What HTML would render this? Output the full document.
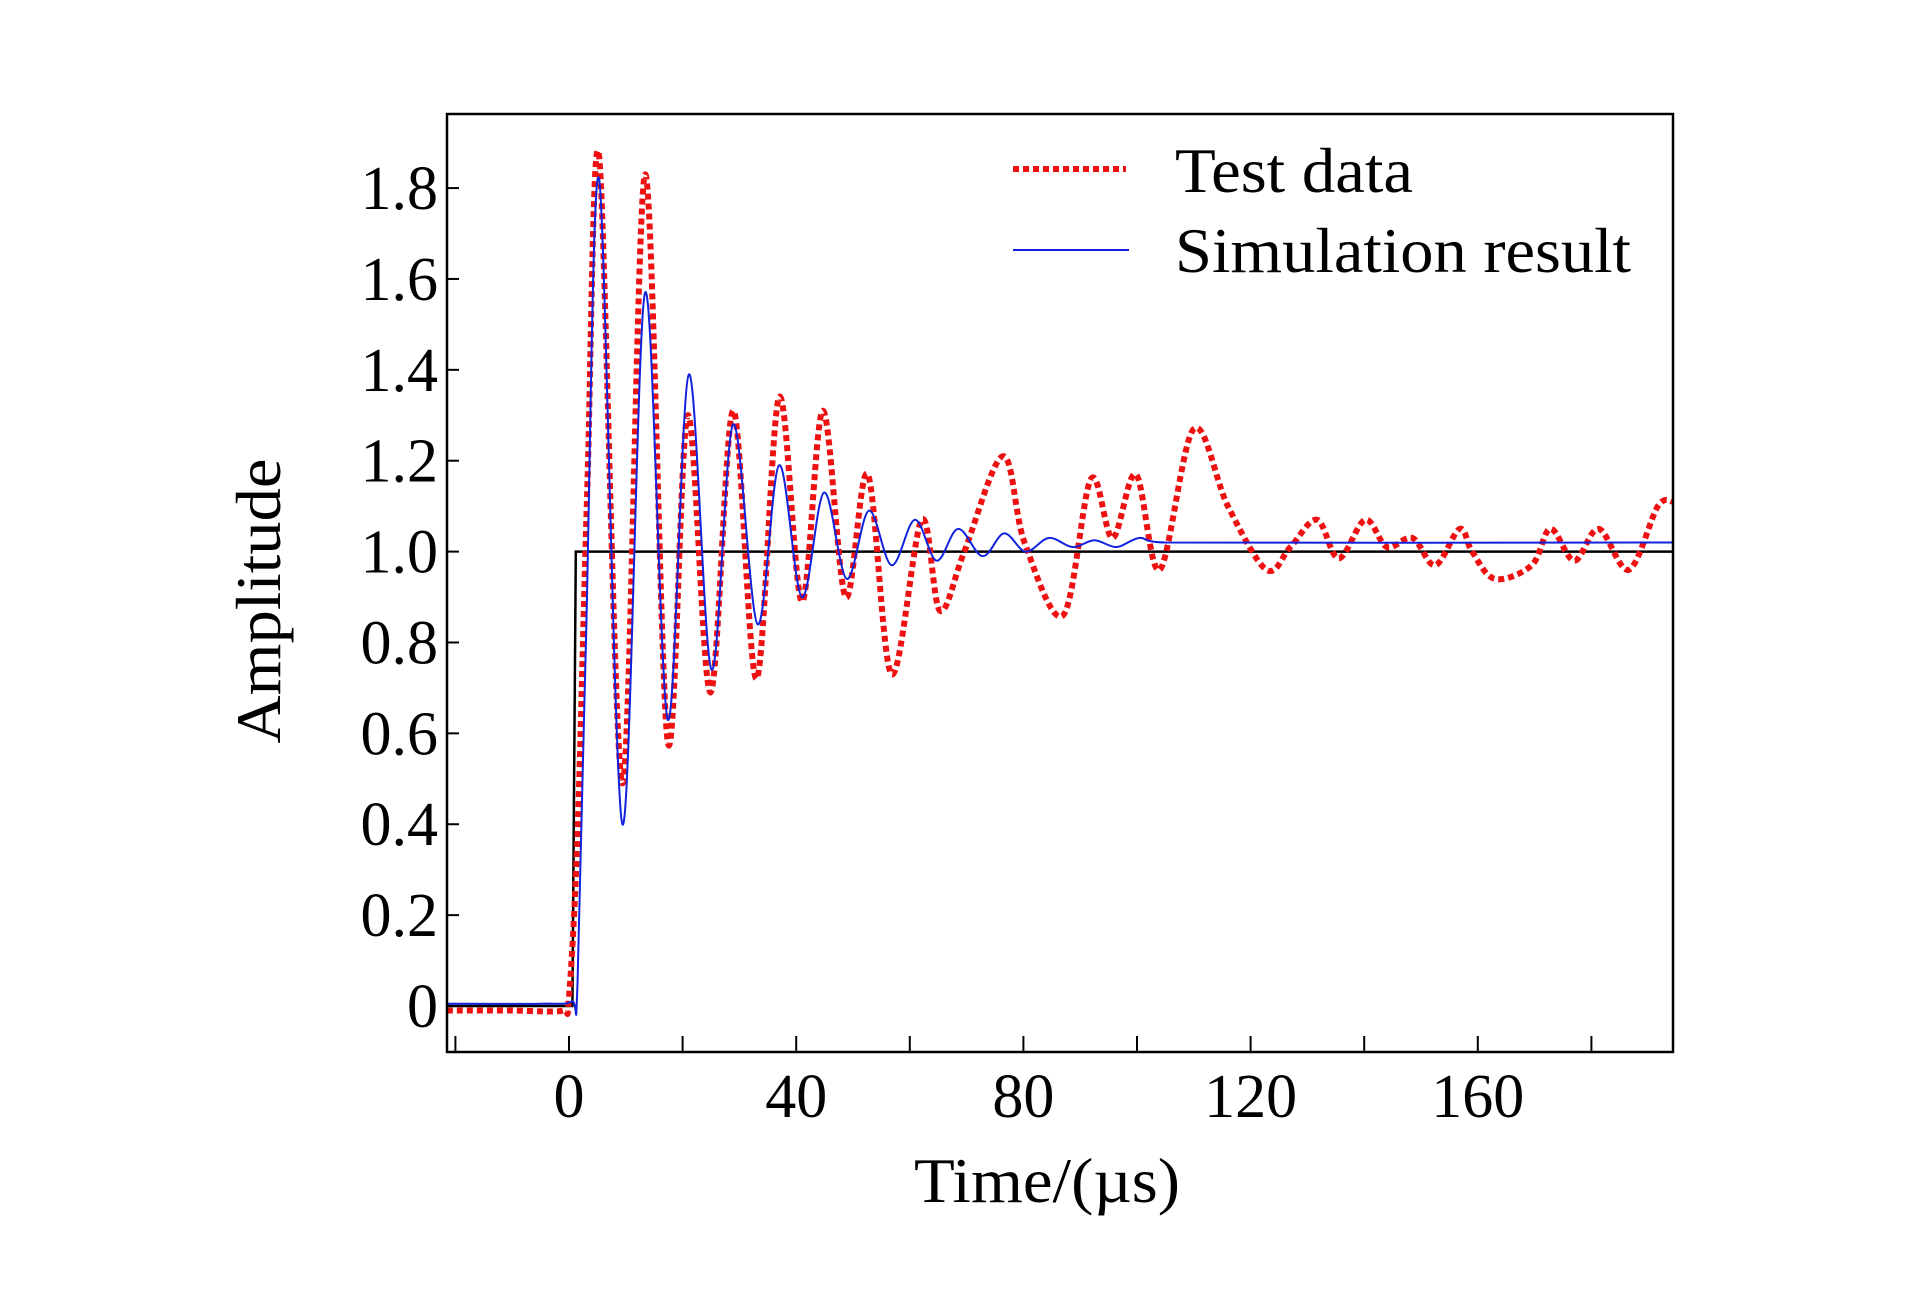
<!DOCTYPE html>
<html><head><meta charset="utf-8"><style>
html,body{margin:0;padding:0;background:#fff;}
svg{display:block;font-family:"Liberation Serif",serif;}
</style></head><body>
<svg id="chart" width="1923" height="1299" viewBox="0 0 1923 1299">
  <g id="plot"></g>
</svg>
<script>
const testT = [-21.5,-10,-1,0,1.5,3.2,5.3,9.4,13.4,17.4,20.9,24.9,28.9,33,37,41,44.7,48.7,52.6,56.8,62.1,65.3,69.6,76.4,80.2,87,91.9,95.7,99.8,104,110,116,122.8,127,131.7,135.5,140.2,144,148.5,152.5,156.8,159,163,169.5,172.8,177,181.3,186.6,191.7,194.4];
const testV = [-0.01,-0.01,-0.01,0.02,0.38,1.13,1.87,0.49,1.83,0.58,1.30,0.69,1.31,0.72,1.34,0.89,1.31,0.90,1.17,0.73,1.07,0.87,1.00,1.21,1.02,0.86,1.16,1.03,1.17,0.96,1.27,1.10,0.96,1.01,1.07,0.985,1.07,1.01,1.03,0.97,1.05,1.0,0.94,0.97,1.05,0.98,1.05,0.96,1.10,1.11];
const simT = [-21.5,-5,0.5,1.5,3,5.3,9.4,13.4,17.4,21.1,25.1,28.9,33.2,37,41,44.9,48.9,52.8,56.8,60.9,64.7,68.5,72.8,76.6,80.4,84.5,88.7,92.5,96.4,100.4,105,194.4];
const simV = [0.005,0.005,0.01,0.05,0.81,1.82,0.40,1.57,0.63,1.39,0.74,1.28,0.84,1.19,0.90,1.13,0.94,1.09,0.97,1.07,0.98,1.05,0.99,1.04,1.00,1.03,1.01,1.025,1.01,1.03,1.02,1.02];
const stepT = [-21.5,0.6,1.2,194.4];
const stepV = [0,0,1,1];
const xTicks = [0,40,80,120,160];
const xMinor = [-20,20,60,100,140,180];
const yTicks = [0,0.2,0.4,0.6,0.8,1.0,1.2,1.4,1.6,1.8];
const yLabels = ["0","0.2","0.4","0.6","0.8","1.0","1.2","1.4","1.6","1.8"];

const L=447,R=1673,T=114,B=1052;
const X = t => 569 + t*5.68;
const Y = v => 1006 - v*454.4;
const NS="http://www.w3.org/2000/svg";
const g=document.getElementById('plot');
function mk(tag,attrs,parent){const e=document.createElementNS(NS,tag);for(const k in attrs)e.setAttribute(k,attrs[k]);(parent||g).appendChild(e);return e;}
function smooth(ts,vs){
  const p=ts.map((t,i)=>[X(t),Y(vs[i])]);
  let d=`M${p[0][0]},${p[0][1]}`;
  for(let i=0;i<p.length-1;i++){
    const p0=p[Math.max(0,i-1)],p1=p[i],p2=p[i+1],p3=p[Math.min(p.length-1,i+2)];
    const k=1/6;
    const c1=[p1[0]+(p2[0]-p0[0])*k,p1[1]+(p2[1]-p0[1])*k];
    const c2=[p2[0]-(p3[0]-p1[0])*k,p2[1]-(p3[1]-p1[1])*k];
    c1[0]=Math.min(Math.max(c1[0],p1[0]),p2[0]);c2[0]=Math.min(Math.max(c2[0],p1[0]),p2[0]);
    d+=` C${c1[0]},${c1[1]} ${c2[0]},${c2[1]} ${p2[0]},${p2[1]}`;
  }
  return d;
}
const defs=mk('defs',{});const cp=mk('clipPath',{id:'clip'},defs);mk('rect',{x:L,y:T,width:R-L,height:B-T},cp);

// step line
const step=mk('polyline',{points:stepT.map((t,i)=>X(t)+','+Y(stepV[i])).join(' '),fill:'none',stroke:'#000','stroke-width':2.5,'clip-path':'url(#clip)'});


// test data
const red=mk('path',{d:smooth(testT,testV),fill:'none',stroke:'#ee1111','stroke-width':6,'stroke-dasharray':'6 4','clip-path':'url(#clip)'});


// simulation
const blue=mk('path',{d:smooth(simT,simV),fill:'none',stroke:'#1122dd','stroke-width':2,'clip-path':'url(#clip)'});



// frame
const fr=mk('rect',{x:L,y:T,width:R-L,height:B-T,fill:'none',stroke:'#000','stroke-width':2.5});



xTicks.concat(xMinor).forEach(t=>{
  const tk=mk('line',{x1:X(t),x2:X(t),y1:B,y2:B-16,stroke:'#000','stroke-width':2});
  
  
});
xTicks.forEach(t=>{
  const tx=mk('text',{x:X(t),y:1117,'text-anchor':'middle','font-size':62,fill:'#000'});
  tx.textContent=String(t);
  
  
});
yTicks.forEach((v,i)=>{
  const tk=mk('line',{x1:L,x2:L+12,y1:Y(v),y2:Y(v),stroke:'#000','stroke-width':2});
  
  
  const tx=mk('text',{x:438,y:Y(v)+21,'text-anchor':'end','font-size':62,fill:'#000'});
  tx.textContent=yLabels[i];
  
  
});
</script>
<svg style="position:absolute;left:0;top:0" width="1923" height="1299">
  <text x="1047" y="1202" text-anchor="middle" font-size="64" textLength="266" lengthAdjust="spacingAndGlyphs" font-family="Liberation Serif, serif">Time/(µs)</text>
  <text transform="translate(280,601) rotate(-90)" text-anchor="middle" font-size="64" textLength="285" lengthAdjust="spacingAndGlyphs" font-family="Liberation Serif, serif">Amplitude</text>
  <g>
    <line x1="1013" y1="169" x2="1126" y2="169" stroke="#ee1111" stroke-width="6" stroke-dasharray="6 4"/>
    <text x="1175" y="192" font-size="64" textLength="238" lengthAdjust="spacingAndGlyphs" font-family="Liberation Serif, serif">Test data</text>
    <line x1="1013" y1="250" x2="1129" y2="250" stroke="#1122dd" stroke-width="2"/>
    <text x="1175" y="272" font-size="64" textLength="456" lengthAdjust="spacingAndGlyphs" font-family="Liberation Serif, serif">Simulation result</text>
  </g>
</svg>
</body></html>
